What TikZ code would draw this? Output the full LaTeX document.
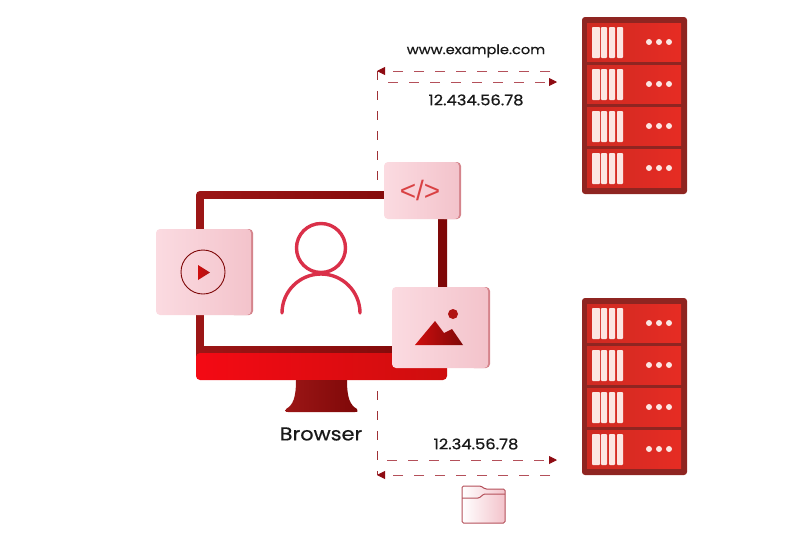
\documentclass[tikz,border=0pt]{standalone}
\usepackage{fontspec}
\newfontfamily\lab[FakeStretch=1.12,FakeBold=0.6]{Poppins}
\newfontfamily\codefont{Liberation Sans}
\usetikzlibrary{arrows.meta}
\definecolor{frameL}{HTML}{9C1616}
\definecolor{frameR}{HTML}{7E0808}
\definecolor{baseL}{HTML}{F40A14}
\definecolor{baseR}{HTML}{CE0E0E}
\definecolor{cardL}{HTML}{FBDBE1}
\definecolor{cardR}{HTML}{F3C3CB}
\definecolor{cardE}{HTML}{D5848C}
\definecolor{srvOut}{HTML}{8F2521}
\definecolor{bladeL}{HTML}{CF2A22}
\definecolor{bladeR}{HTML}{E62C23}
\definecolor{slotc}{HTML}{FCE6E2}
\definecolor{dashc}{HTML}{B4505A}
\definecolor{tipc}{HTML}{8E0B12}
\definecolor{personc}{HTML}{DA3049}
\tikzset{
  x=1pt,y=-1pt,
  card/.style={rounded corners=4pt,left color=cardL,right color=cardR},
  cardedge/.style={rounded corners=4pt,fill=cardE},
  labeltext/.style={font=\lab\fontsize{14.6}{16}\selectfont,text=black!90,inner sep=0pt,anchor=center},
  link/.style={draw=dashc,line width=0.9pt,dash pattern=on 10pt off 11pt},
  tipped/.style={link,-{Triangle[length=8pt,width=8pt,fill=tipc,color=tipc,sep=0pt]}},
  server/.pic={
    \fill[srvOut,rounded corners=3pt] (582,17) rectangle (687,194);
    \foreach \t in {23,65,107,149}{
      \shade[left color=bladeL,right color=bladeR] (587,\t) rectangle (681,\t+38.5);
      \foreach \a/\b in {592/600,601/607,609/615,617/623}
        \fill[slotc,rounded corners=0.8pt] (\a,\t+4) rectangle (\b,\t+35);
      \foreach \d in {649,659,669}
        \fill[slotc] (\d,\t+19) circle[radius=3];
    }
  }
}
\begin{document}
\begin{tikzpicture}
\useasboundingbox (0,0) rectangle (800,533);
% connector corners and free ends
\coordinate (tc) at (377,71);
\coordinate (bc) at (377,475);
\coordinate (t1) at (550,71);
\coordinate (t2) at (388,82);
\coordinate (t2e) at (557,82);
\coordinate (b1) at (387,460);
\coordinate (b1e) at (557,460);
\coordinate (b2) at (550,475);
% connectors
\draw[link,draw=tipc!85!white,dash pattern=on 9pt off 11pt] (tc) -- (bc);
\draw[tipped] (t1) -- (tc);
\draw[tipped] (t2) -- (t2e);
\draw[tipped] (b1) -- (b1e);
\draw[tipped] (b2) -- (bc);
% servers
\pic at (0,0) {server};
\pic at (0,281) {server};
% monitor
\shade[left color=frameL,right color=frameR,rounded corners=4pt,even odd rule]
  (196,191) rectangle (447,360) (204,199) rectangle (438,346);
\shade[left color=baseL,right color=baseR,rounded corners=4pt] (196,353) rectangle (447,380);
\fill[white] (204,199) rectangle (438,346);
\shade[left color=frameL,right color=frameR] (296,380) -- (347,380)
  .. controls (347,398) and (350,405) .. (357,409)
  .. controls (358,411) and (358,412) .. (355,412) -- (288,412)
  .. controls (285,412) and (285,411) .. (286,409)
  .. controls (293,405) and (296,398) .. (296,380) -- cycle;
% person
\draw[personc,line width=3.4pt] (321,248) circle[radius=24.5];
\draw[personc,line width=3.4pt,line cap=round] (282,313) arc[start angle=180,end angle=360,x radius=39,y radius=39];
% cards
\fill[cardedge] (440,162) rectangle (461,219);
\shade[card] (384,162) rectangle (459,219);
\node[inner sep=0pt,font=\codefont\fontsize{28}{28}\selectfont,text=baseR!75!cardL] (code) at (420,190) {</>};
\fill[cardedge] (230,229) rectangle (253,315);
\shade[card] (156,229) rectangle (251,315);
\draw[frameR,line width=0.9pt] (203,272) circle[radius=22];
\shade[left color=baseR,right color=frameL!70!baseR] (198,265) -- (210,272.5) -- (198,280) -- cycle;
\fill[cardedge] (470,287) rectangle (490,368);
\shade[card] (392,287) rectangle (488,368);
\fill[frameL!60!baseR] (453,314) circle[radius=5];
\shade[left color=baseR,right color=frameR] (415,345) -- (435,321) -- (444,333) -- (452,329) -- (463,345) -- cycle;
% folder
\shade[left color=white,right color=cardR,draw=dashc,line width=1pt,rounded corners=1.5pt]
  (462,523) -- (462,486) -- (481,486) -- (485,489) -- (505,489) -- (505,523) -- cycle;
\draw[dashc,line width=1pt,rounded corners=1pt] (462,498) -- (479,498) -- (484,494) -- (505,494);
% labels
\node[labeltext,font=\lab\fontsize{13}{15}\selectfont] (url) at (476,51) {www.example.com};
\node[labeltext] (ip1) at (476,100) {12.434.56.78};
\node[labeltext] (ip2) at (476,444) {12.34.56.78};
\node[labeltext,font=\lab\fontsize{18.6}{20}\selectfont] (browser) at (321,434) {Browser};
\end{tikzpicture}
\end{document}
